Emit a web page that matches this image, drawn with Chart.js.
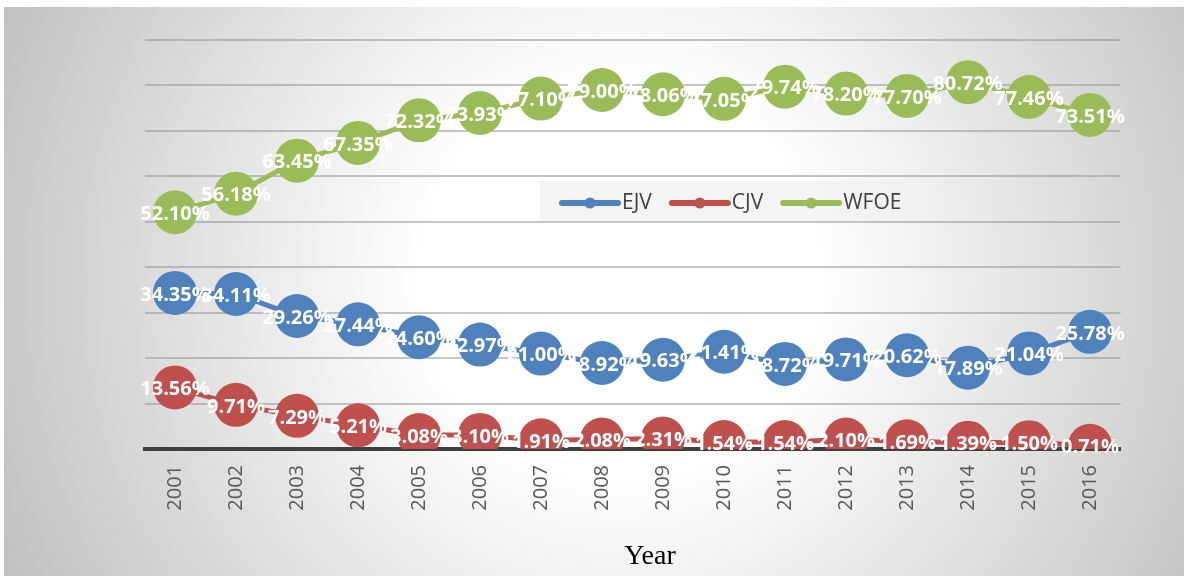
<!DOCTYPE html>
<html>
<head>
<meta charset="utf-8">
<script src="https://cdn.jsdelivr.net/npm/chart.js@4.4.1/dist/chart.umd.min.js"></script>
<style>
	body { margin: 0; background: #ffffff; }
	canvas { display: block; }
</style>
</head>
<body>
<canvas id="shareChart" width="1184" height="576"></canvas>
<script>
// 연도 (x축)
let years = ['2001', '2002', '2003', '2004', '2005', '2006', '2007', '2008',
	'2009', '2010', '2011', '2012', '2013', '2014', '2015', '2016'];

// 시리즈별 비율(%)
let ejvValues = [34.35, 34.11, 29.26, 27.44, 24.60, 22.97, 21.00, 18.92,
	19.63, 21.41, 18.72, 19.71, 20.62, 17.89, 21.04, 25.78];
let cjvValues = [13.56, 9.71, 7.29, 5.21, 3.08, 3.10, 1.91, 2.08,
	2.31, 1.54, 1.54, 2.10, 1.69, 1.39, 1.50, 0.71];
let wfoeValues = [52.10, 56.18, 63.45, 67.35, 72.32, 73.93, 77.10, 79.00,
	78.06, 77.05, 79.74, 78.20, 77.70, 80.72, 77.46, 73.51];

let seriesNames = ['EJV', 'CJV', 'WFOE'];
let seriesColors = ['#4F81BD', '#C0504D', '#9BBB59'];

// y축 눈금 (표시는 안하고 격자선만)
let yMin = 0;
let yMax = 90;
let yStep = 10;

let xTitle = 'Year';

function makeDataset(index, values) {
	return {
		label: seriesNames[index],
		data: values,
		borderColor: seriesColors[index],
		backgroundColor: seriesColors[index],
		borderWidth: 5,
		tension: 0,
		pointRadius: 22,
		pointHoverRadius: 22,
		pointBorderWidth: 0,
		pointBackgroundColor: seriesColors[index]
	};
}

// 배경 그라데이션
const backgroundPlugin = {
	id: 'bgGradient',
	beforeDraw(chart) {
		const ctx = chart.ctx;
		ctx.save();
		ctx.fillStyle = '#ffffff';
		ctx.fillRect(0, 0, chart.width, chart.height);
		let grad = ctx.createRadialGradient(620, 280, 0, 620, 280, 710);
		grad.addColorStop(0, '#ffffff');
		grad.addColorStop(0.28, '#ffffff');
		grad.addColorStop(1, '#bdbdbd');
		ctx.fillStyle = grad;
		ctx.fillRect(4, 7, chart.width - 4, chart.height - 7);
		ctx.restore();
	}
};

// 각 포인트 위에 값 표시
const pointLabelPlugin = {
	id: 'pointLabels',
	afterDatasetsDraw(chart) {
		const ctx = chart.ctx;
		ctx.save();
		ctx.font = 'bold 20px "Open Sans"';
		ctx.fillStyle = '#ffffff';
		ctx.textAlign = 'center';
		ctx.textBaseline = 'middle';
		chart.data.datasets.forEach((ds, i) => {
			chart.getDatasetMeta(i).data.forEach((pt, j) => {
				ctx.fillText(ds.data[j].toFixed(2) + '%', pt.x, pt.y + 2);
			});
		});
		ctx.restore();
	}
};

// 범례 (차트 안쪽 박스)
const legendBoxPlugin = {
	id: 'legendBox',
	afterDraw(chart) {
		const ctx = chart.ctx;
		ctx.save();
		ctx.fillStyle = 'rgba(240, 240, 240, 0.75)';
		ctx.fillRect(540, 181, 383, 40);

		let x = 562;
		let y = 203;
		ctx.font = '21px "Open Sans"';
		ctx.textBaseline = 'middle';
		ctx.textAlign = 'left';
		chart.data.datasets.forEach((ds) => {
			ctx.strokeStyle = ds.borderColor;
			ctx.lineWidth = 6;
			ctx.lineCap = 'round';
			ctx.beginPath();
			ctx.moveTo(x, y);
			ctx.lineTo(x + 56, y);
			ctx.stroke();
			ctx.fillStyle = ds.borderColor;
			ctx.beginPath();
			ctx.arc(x + 28, y, 5.5, 0, Math.PI * 2);
			ctx.fill();

			ctx.fillStyle = '#404040';
			ctx.fillText(ds.label, x + 60, y);
			x += 60 + ctx.measureText(ds.label).width + 20;
		});
		ctx.restore();
	}
};

// x축 제목
const xTitlePlugin = {
	id: 'xTitle',
	afterDraw(chart) {
		const ctx = chart.ctx;
		ctx.save();
		ctx.font = '28px "Liberation Serif"';
		ctx.fillStyle = '#000000';
		ctx.textAlign = 'center';
		ctx.textBaseline = 'alphabetic';
		ctx.fillText(xTitle, 650, 564);
		ctx.restore();
	}
};

let ctx = document.getElementById('shareChart').getContext('2d');
let shareChart = new Chart(ctx, {
	type: 'line',
	data: {
		labels: years,
		datasets: [
			makeDataset(0, ejvValues),
			makeDataset(1, cjvValues),
			makeDataset(2, wfoeValues)
		]
	},
	options: {
		responsive: false,
		animation: false,
		devicePixelRatio: 1,
		layout: {
			padding: { left: 144.5, right: 63.5, top: 40, bottom: 0 }
		},
		scales: {
			x: {
				offset: true,
				grid: { display: false, drawTicks: false },
				border: { display: true, color: '#404040', width: 4 },
				ticks: {
					color: '#595959',
					font: { family: 'Open Sans', size: 20 },
					minRotation: 90,
					maxRotation: 90,
					padding: 16
				},
				afterFit(scale) {
					scale.height = 127;
				}
			},
			y: {
				min: yMin,
				max: yMax,
				grid: {
					color: 'rgba(150, 150, 150, 0.55)',
					lineWidth: 2,
					drawTicks: false
				},
				border: { display: false },
				ticks: { display: false, stepSize: yStep },
				afterFit(scale) {
					scale.width = 0;
				}
			}
		},
		plugins: {
			legend: { display: false },
			tooltip: { enabled: false }
		}
	},
	plugins: [backgroundPlugin, pointLabelPlugin, legendBoxPlugin, xTitlePlugin]
});
</script>
</body>
</html>
